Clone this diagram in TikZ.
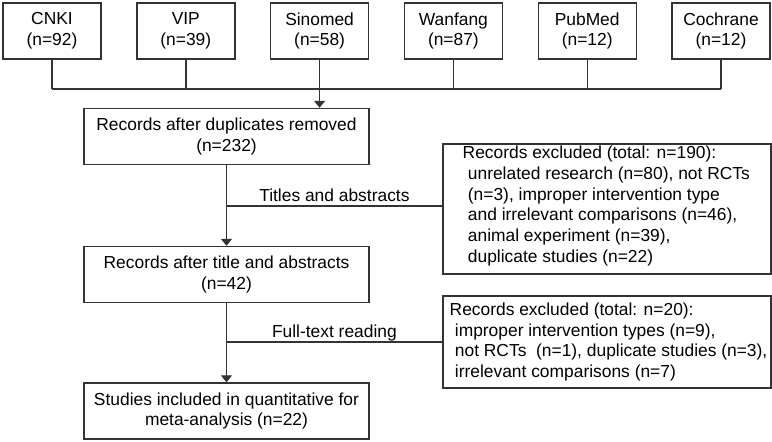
\documentclass[tikz,border=0pt]{standalone}
\usepackage{fontspec}
\setmainfont{Liberation Sans}
\usetikzlibrary{arrows.meta}
\newcommand{\exindent}{\hspace*{0.3em}}

\begin{document}
\begin{tikzpicture}[x=0.5pt, y=-0.5pt, font=\fontsize{8.7}{10.4}\selectfont, line width=0.7pt,
    >={Triangle[width=5.5pt,length=3.5pt]},
    src/.style={draw=black!80, minimum width=49pt, minimum height=28pt, align=center, inner sep=0pt},
    stage/.style={draw=black!80, minimum width=142.5pt, minimum height=28pt, align=center, inner sep=0pt},
    exbox/.style={draw=black!80, minimum width=164pt, inner sep=0pt},
    extext/.style={anchor=west, align=left, inner sep=0pt},
    link/.style={draw=black!80},
    lbl/.style={anchor=base, yshift=2.2pt}]
  \useasboundingbox (0,0) rectangle (772,442);
  % databases
  \foreach \name/\db/\n [count=\i from 0] in {cnki/CNKI/92, vip/VIP/39, sinomed/Sinomed/58,
      wanfang/Wanfang/87, pubmed/PubMed/12, cochrane/Cochrane/12}
    \node[src] (\name) at ({52+133.8*\i},31) {\db\\(n=\n)};
  \coordinate (bus) at (319,89);
  \foreach \name in {cnki,vip,sinomed,wanfang,pubmed,cochrane}
    \draw[link] (\name.south) -- (\name.south |- bus);
  \draw[link] (cnki.south |- bus) -- (cochrane.south |- bus);
  % screening stages
  \node[stage] (dup) at (226.5,136.5) {Records after duplicates removed\\(n=232)};
  \node[stage] (title) at (226.5,274.5) {Records after title and abstracts\\(n=42)};
  \node[stage] (incl) at (226.5,411) {Studies included in quantitative for\\meta-analysis (n=22)};
  \draw[link,->] (sinomed.south |- bus) -- (sinomed.south |- dup.north);
  % exclusions
  \node[exbox, minimum height=65pt] (ex1) at (607,209) {};
  \node[extext] (ex1txt) at (462,206) {Records excluded (total: n=190):\\
    \exindent unrelated research (n=80), not RCTs\\
    \exindent (n=3), improper intervention type\\
    \exindent and irrelevant comparisons (n=46),\\
    \exindent animal experiment (n=39),\\
    \exindent duplicate studies (n=22)};
  \node[exbox, minimum height=46pt] (ex2) at (607,342) {};
  \node[extext] (ex2txt) at (449,342) {Records excluded (total: n=20):\\
    \exindent improper intervention types (n=9),\\
    \exindent not RCTs\ \ (n=1), duplicate studies (n=3),\\
    \exindent irrelevant comparisons (n=7)};
  \coordinate (cut1) at (dup.south |- 0,206);
  \coordinate (cut2) at (title.south |- 0,342);
  \draw[link,->] (dup.south) -- (title.north);
  \draw[link] (cut1) -- (cut1 -| ex1.west) node[lbl, midway] {Titles and abstracts};
  \draw[link,->] (title.south) -- (incl.north);
  \draw[link] (cut2) -- (cut2 -| ex2.west) node[lbl, midway] {Full-text reading};
\end{tikzpicture}
\end{document}
